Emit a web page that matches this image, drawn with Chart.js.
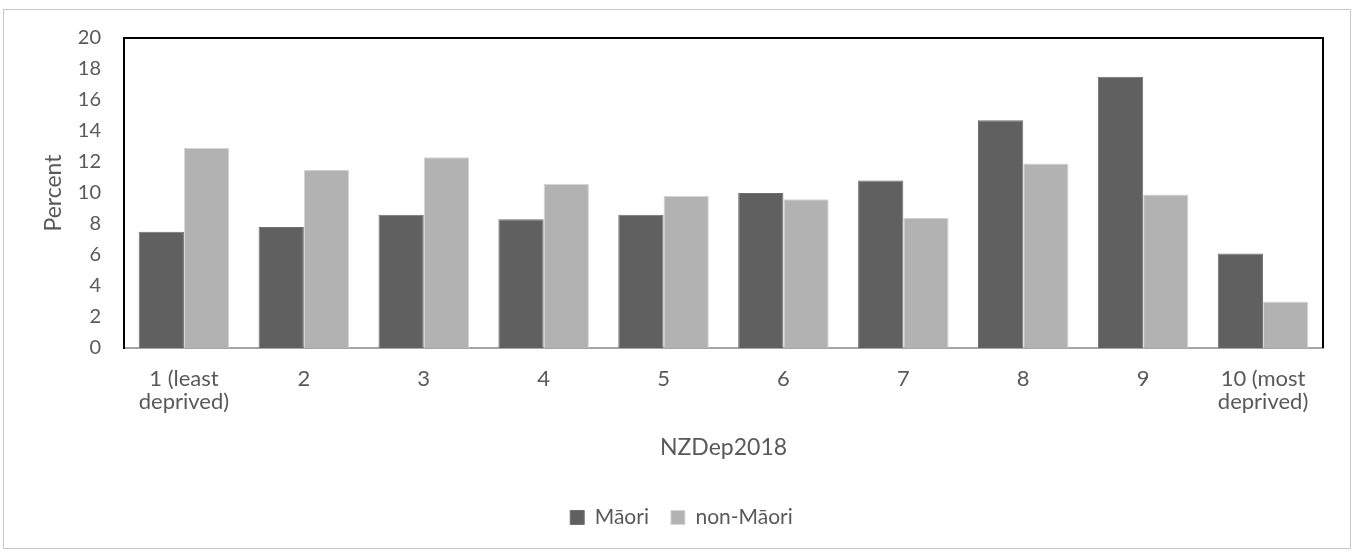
<!DOCTYPE html>
<html>
<head>
<meta charset="utf-8">
<script src="https://cdn.jsdelivr.net/npm/chart.js@4.4.1/dist/chart.umd.min.js"></script>
<style>
  html, body { margin: 0; padding: 0; background: #fff; }
  #frame { position: absolute; left: 3px; top: 9px; width: 1346px; height: 538px; border: 1px solid #c8c8c8; }
  #wrap { position: absolute; left: 0; top: 0; width: 1353px; height: 552px; }
</style>
</head>
<body>
<div id="frame"></div>
<div id="wrap"><canvas id="barChart" width="1353" height="552"></canvas></div>
<script>
// Categories (NZDep2018 deciles)
const categories = [
    ['1 (least', 'deprived)'], '2', '3', '4', '5', '6', '7', '8', '9', ['10 (most', 'deprived)']
];

// Series values (percent)
const maoriValues = [7.5, 7.8, 8.6, 8.3, 8.6, 10.0, 10.8, 14.7, 17.5, 6.1];
const nonMaoriValues = [12.9, 11.5, 12.3, 10.6, 9.8, 9.6, 8.4, 11.9, 9.9, 3.0];

// Y axis ticks
const yTicks = [0, 2, 4, 6, 8, 10, 12, 14, 16, 18, 20];

const textColor = '#595959';
const fontFamily = "Lato, 'Liberation Sans', sans-serif";

// Draws the black frame on top and right of the plot area
const plotFrame = {
    id: 'plotFrame',
    afterLayout(chart) {
        // legend sits a little right of centre in the original
        if (chart.legend) {
            chart.legend.left += 20;
            chart.legend.right += 20;
        }
    },
    afterDraw(chart) {
        const { ctx, chartArea } = chart;
        ctx.save();
        ctx.strokeStyle = '#000';
        ctx.lineWidth = 2;
        ctx.beginPath();
        ctx.moveTo(chartArea.left, chartArea.top);
        ctx.lineTo(chartArea.right, chartArea.top);
        ctx.lineTo(chartArea.right, chartArea.bottom);
        ctx.stroke();
        ctx.restore();
    }
};

const ctx = document.getElementById('barChart').getContext('2d');
const barChart = new Chart(ctx, {
    type: 'bar',
    data: {
        labels: categories,
        datasets: [{
            label: 'Māori',
            data: maoriValues,
            backgroundColor: '#606060',
            borderColor: '#707070',
            borderWidth: 1,
            categoryPercentage: 0.755,
            barPercentage: 1.0
        }, {
            label: 'non-Māori',
            data: nonMaoriValues,
            backgroundColor: '#b2b2b2',
            borderColor: '#d6d6d6',
            borderWidth: 1,
            categoryPercentage: 0.755,
            barPercentage: 1.0
        }]
    },
    options: {
        responsive: false,
        animation: false,
        layout: {
            padding: { top: 38, right: 30, left: 0, bottom: 14 }
        },
        plugins: {
            tooltip: { enabled: false },
            legend: {
                position: 'bottom',
                labels: {
                    boxWidth: 14,
                    boxHeight: 14,
                    padding: 22,
                    color: textColor,
                    font: { family: fontFamily, size: 21 }
                }
            }
        },
        scales: {
            x: {
                grid: { display: false, drawTicks: false },
                border: { display: true, color: '#a6a6a6', width: 2 },
                ticks: {
                    color: textColor,
                    padding: 19,
                    maxRotation: 0,
                    autoSkip: false,
                    font: { family: fontFamily, size: 22, lineHeight: 1.05 }
                },
                title: {
                    display: true,
                    text: 'NZDep2018',
                    color: textColor,
                    padding: { top: 0, bottom: 24 },
                    font: { family: fontFamily, size: 23 }
                },
                afterFit(scale) { scale.height = 137; }
            },
            y: {
                min: 0,
                max: 20,
                afterBuildTicks(scale) {
                    scale.ticks = yTicks.map(v => ({ value: v }));
                },
                grid: { display: false, drawTicks: false },
                border: { display: true, color: '#000', width: 2 },
                ticks: {
                    color: textColor,
                    padding: 23,
                    font: { family: fontFamily, size: 20 }
                },
                title: {
                    display: true,
                    text: 'Percent',
                    color: textColor,
                    padding: { top: 40, bottom: 0 },
                    font: { family: fontFamily, size: 23 }
                },
                afterFit(scale) { scale.width = 124; }
            }
        }
    },
    plugins: [plotFrame]
});
</script>
</body>
</html>
